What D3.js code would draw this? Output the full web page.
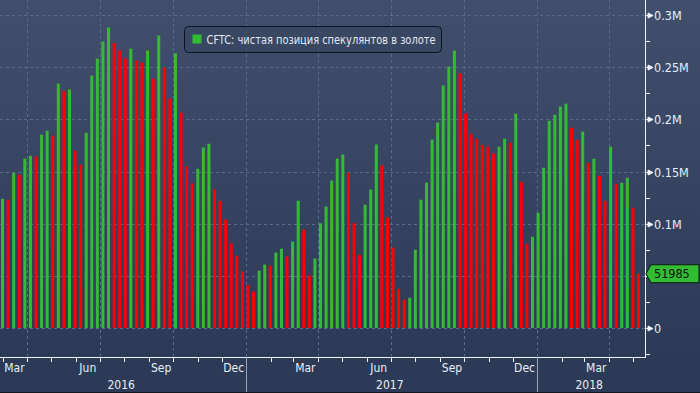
<!DOCTYPE html>
<html>
<head>
<meta charset="utf-8">
<script src="https://cdn.jsdelivr.net/npm/d3@7"></script>
<style>
  html, body { margin: 0; padding: 0; background: #2c3a58; }
  svg { display: block; }
  text { font-family: "DejaVu Sans Condensed", "DejaVu Sans", sans-serif; font-stretch: condensed; }
</style>
</head>
<body>
<svg id="chart" width="700" height="393"></svg>
<script>
// ---- Data (net speculative position in gold, contracts) ----
const seriesName = "CFTC: чистая позиция спекулянтов в золоте";
const firstWeek = "2016-03-01";   // first weekly report date (Tuesday)
const netPosition = [
  123800, 122900, 148800, 146900, 162200, 165100, 164200, 185300, 189100, 184300,
  234200, 226900, 228500, 169900, 156500, 187200, 241900, 258200, 274600, 288000,
  273000, 265900, 258200, 267800, 256300, 254400, 265900, 239000, 280300, 249900,
  219800, 263400, 206400, 154900, 138600, 152600, 173100, 176600, 132800, 121900,
  104000, 81000, 69400, 54100, 41300, 34900, 55000, 60800, 59800, 72300,
  76000, 68400, 82900, 122000, 94500, 50200, 66600, 100400, 116400, 141300,
  162400, 166300, 149000, 100400, 70300, 118200, 132700, 175900, 156000, 105800,
  77100, 37600, 27100, 29000, 75000, 123000, 139400, 180600, 197000, 232500,
  250500, 266000, 244200, 205400, 186200, 181400, 175700, 173800, 167000, 173800,
  181400, 177600, 205400, 140200, 80600, 87400, 110400, 153600, 198700, 204500,
  212200, 215000, 192000, 180500, 188200, 158400, 162200, 145900, 121900, 173800,
  138200, 139200, 144000, 115200, 51985
];
const yTickValues = [0, 100000, 150000, 200000, 250000, 300000];
const yTickLabels = ["0", "0.1M", "0.15M", "0.2M", "0.25M", "0.3M"];
const yGridValues = [0, 50000, 100000, 150000, 200000, 250000, 300000];
const monthLabels = ["Mar", "Jun", "Sep", "Dec"];
const years = [2016, 2017, 2018];

// ---- Layout ----
const W = 700, H = 393;
const plotRight = 645, axisY = 357;
const svg = d3.select("#chart");

const parse = d3.utcParse("%Y-%m-%d");
const start = parse(firstWeek);
const dates = netPosition.map((v, i) => d3.utcWeek.offset(start, i));
const data = netPosition.map((v, i) => ({
  date: dates[i], value: v, up: i === 0 ? true : v >= netPosition[i - 1]
}));

const x = d3.scaleUtc()
  .domain([new Date(Date.UTC(2016, 1, 26, 20)), new Date(Date.UTC(2018, 4, 16, 4))])
  .range([0, plotRight]);
const y = d3.scaleLinear().domain([0, 300000]).range([328, 15]);

// background gradient
const defs = svg.append("defs");
const grad = defs.append("linearGradient").attr("id", "bg").attr("x1", 0).attr("y1", 0).attr("x2", 0).attr("y2", 1);
grad.append("stop").attr("offset", "0%").attr("stop-color", "#414f6c");
grad.append("stop").attr("offset", "100%").attr("stop-color", "#2c3a58");
svg.append("rect").attr("width", W).attr("height", axisY).attr("fill", "url(#bg)");
svg.append("rect").attr("y", axisY).attr("width", W).attr("height", H - axisY).attr("fill", "#2c3a58");

// grid
const gridColor = "#586b8a";
svg.append("g").selectAll("line").data(yGridValues).join("line")
  .attr("x1", 0).attr("x2", plotRight)
  .attr("y1", d => Math.round(y(d)) + 0.5).attr("y2", d => Math.round(y(d)) + 0.5)
  .attr("stroke", gridColor).attr("stroke-dasharray", "3,3");

const quarterStarts = d3.utcMonth.every(3).range(x.domain()[0], x.domain()[1])
  .filter(d => d.getUTCMonth() % 3 === 0);
svg.append("g").selectAll("line").data(quarterStarts).join("line")
  .attr("x1", d => Math.round(x(d)) + 0.5).attr("x2", d => Math.round(x(d)) + 0.5)
  .attr("y1", 0).attr("y2", axisY)
  .attr("stroke", gridColor).attr("stroke-dasharray", "3,3");

// bars
const barW = 3;
svg.append("g").selectAll("rect").data(data).join("rect")
  .attr("x", d => x(d.date) - barW / 2)
  .attr("width", barW)
  .attr("y", d => y(d.value))
  .attr("height", d => y(0) - y(d.value))
  .attr("fill", d => d.up ? "#33bb33" : "#ff0000");

// right axis
const axisColor = "#f0f3f8";
svg.append("line").attr("x1", plotRight + 0.5).attr("x2", plotRight + 0.5)
  .attr("y1", 0).attr("y2", axisY).attr("stroke", axisColor);
const minorTicks = d3.range(-25000, 325001, 25000).filter(v => !yTickValues.includes(v));
svg.append("g").selectAll("line").data(minorTicks).join("line")
  .attr("x1", plotRight).attr("x2", plotRight + 5)
  .attr("y1", d => Math.round(y(d)) + 0.5).attr("y2", d => Math.round(y(d)) + 0.5)
  .attr("stroke", axisColor);
const yt = svg.append("g").selectAll("g").data(yTickValues).join("g")
  .attr("transform", d => `translate(${plotRight},${Math.round(y(d)) + 0.5})`);
yt.append("path").attr("d", "M0,0H4M3,-2.5L8,0L3,2.5Z").attr("stroke", axisColor).attr("fill", axisColor).attr("stroke-width", 1);
yt.append("text").attr("x", 9).attr("dy", "0.36em")
  .attr("fill", "#e8edf4").attr("font-size", 12.5)
  .text((d, i) => yTickLabels[i]);

// bottom axis
svg.append("line").attr("x1", 0).attr("x2", plotRight + 1)
  .attr("y1", axisY + 0.5).attr("y2", axisY + 0.5).attr("stroke", axisColor);
const monthStarts = d3.utcMonth.range(x.domain()[0], x.domain()[1]);
svg.append("g").selectAll("line").data(monthStarts).join("line")
  .attr("x1", d => Math.round(x(d)) + 0.5).attr("x2", d => Math.round(x(d)) + 0.5)
  .attr("y1", axisY).attr("y2", axisY + 5).attr("stroke", axisColor);
const labelled = d3.utcMonth.range(x.domain()[0], x.domain()[1])
  .filter(d => monthLabels.includes(d3.utcFormat("%b")(d)));
svg.append("g").selectAll("text").data(labelled).join("text")
  .attr("x", d => x(new Date(d.getTime() + 15 * 864e5)))
  .attr("y", 372).attr("text-anchor", "middle")
  .attr("fill", "#e8edf4").attr("font-size", 12)
  .text(d => d3.utcFormat("%b")(d));

// year separators & labels
const yearStarts = years.map(yv => new Date(Date.UTC(yv, 0, 1)));
svg.append("g").selectAll("line").data(yearStarts.filter(d => x(d) > 0)).join("line")
  .attr("x1", d => Math.round(x(d)) + 0.5).attr("x2", d => Math.round(x(d)) + 0.5)
  .attr("y1", axisY).attr("y2", H).attr("stroke", "#9aa5b8");
svg.append("g").selectAll("text").data(years).join("text")
  .attr("x", yv => {
    const a = Math.max(0, x(new Date(Date.UTC(yv, 0, 1))));
    const b = Math.min(plotRight, x(new Date(Date.UTC(yv + 1, 0, 1))));
    return (a + b) / 2 - 2;
  })
  .attr("y", 389).attr("text-anchor", "middle")
  .attr("fill", "#e8edf4").attr("font-size", 12)
  .text(yv => yv);
svg.append("line").attr("x1", 0).attr("x2", W).attr("y1", H - 0.5).attr("y2", H - 0.5).attr("stroke", "#111822");

// last value tag
const last = data[data.length - 1];
const ly = y(last.value);
const tag = svg.append("g").attr("transform", `translate(${plotRight + 1},${ly})`);
tag.append("path").attr("d", "M0,0L5,-9H53V9H5Z").attr("fill", "#33bb33").attr("stroke", "#0d1a10").attr("stroke-width", 1);
tag.append("text").attr("x", 8).attr("dy", "0.36em").attr("fill", "#0b160b").attr("font-size", 12.5)
  .text(d3.format("d")(last.value));

// legend
const lg = svg.append("g").attr("transform", "translate(184.5,26.5)");
const targetW = 229;
const lt = lg.append("text").attr("x", 22).attr("y", 17.5).attr("fill", "#e3e8f0").attr("font-size", 11.5)
  .attr("textLength", targetW).attr("lengthAdjust", "spacingAndGlyphs").text(seriesName);
lg.insert("rect", "text").attr("width", 22 + targetW + 6).attr("height", 26).attr("rx", 4)
  .attr("fill", "#36445f").attr("fill-opacity", 0.6).attr("stroke", "#0e131d");
lg.append("rect").attr("x", 8).attr("y", 8).attr("width", 9).attr("height", 9).attr("fill", "#33bb33");
</script>
</body>
</html>
